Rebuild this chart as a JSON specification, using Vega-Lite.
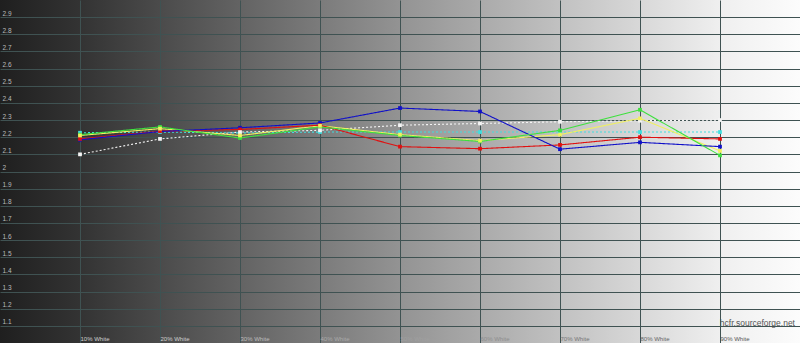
{
  "$schema": "https://vega.github.io/schema/vega-lite/v6.json",
  "width": 800,
  "height": 343,
  "autosize": "none",
  "padding": 0,
  "background": "#ffffff",
  "title": {"text": "hcfr.sourceforge.net", "orient": "bottom", "anchor": "end", "offset": -24, "dx": -5, "fontSize": 8.5, "font": "Liberation Sans", "fontWeight": "normal", "color": "#555555"},
  "config": {
    "view": {"stroke": null, "fill": {"gradient": "linear", "x1": 0, "y1": 0, "x2": 1, "y2": 0, "stops": [{"offset": 0, "color": "#1f1f1f"}, {"offset": 0.1, "color": "#333333"}, {"offset": 0.5, "color": "#939393"}, {"offset": 0.9, "color": "#efefef"}, {"offset": 1, "color": "#fcfcfc"}]}},
    "axis": {"domain": false, "ticks": false, "tickSize": 0, "gridColor": "#3f5252", "gridOpacity": 1, "gridWidth": 1, "labelFont": "Liberation Sans", "title": null}
  },
  "data": {"values": [
    {"pct": 10, "series": "White", "gamma": 2.10},
    {"pct": 20, "series": "White", "gamma": 2.19},
    {"pct": 30, "series": "White", "gamma": 2.23},
    {"pct": 40, "series": "White", "gamma": 2.24},
    {"pct": 50, "series": "White", "gamma": 2.27},
    {"pct": 60, "series": "White", "gamma": 2.28},
    {"pct": 70, "series": "White", "gamma": 2.29},
    {"pct": 80, "series": "White", "gamma": 2.296},
    {"pct": 90, "series": "White", "gamma": 2.30},
    {"pct": 10, "series": "Cyan", "gamma": 2.226},
    {"pct": 20, "series": "Cyan", "gamma": 2.23},
    {"pct": 30, "series": "Cyan", "gamma": 2.225},
    {"pct": 40, "series": "Cyan", "gamma": 2.23},
    {"pct": 50, "series": "Cyan", "gamma": 2.23},
    {"pct": 60, "series": "Cyan", "gamma": 2.23},
    {"pct": 70, "series": "Cyan", "gamma": 2.23},
    {"pct": 80, "series": "Cyan", "gamma": 2.23},
    {"pct": 90, "series": "Cyan", "gamma": 2.23},
    {"pct": 10, "series": "Yellow", "gamma": 2.21},
    {"pct": 20, "series": "Yellow", "gamma": 2.25},
    {"pct": 30, "series": "Yellow", "gamma": 2.21},
    {"pct": 40, "series": "Yellow", "gamma": 2.267},
    {"pct": 50, "series": "Yellow", "gamma": 2.215},
    {"pct": 60, "series": "Yellow", "gamma": 2.18},
    {"pct": 70, "series": "Yellow", "gamma": 2.215},
    {"pct": 80, "series": "Yellow", "gamma": 2.31},
    {"pct": 90, "series": "Yellow", "gamma": 2.12},
    {"pct": 10, "series": "Red", "gamma": 2.19},
    {"pct": 20, "series": "Red", "gamma": 2.235},
    {"pct": 30, "series": "Red", "gamma": 2.245},
    {"pct": 40, "series": "Red", "gamma": 2.27},
    {"pct": 50, "series": "Red", "gamma": 2.145},
    {"pct": 60, "series": "Red", "gamma": 2.133},
    {"pct": 70, "series": "Red", "gamma": 2.155},
    {"pct": 80, "series": "Red", "gamma": 2.20},
    {"pct": 90, "series": "Red", "gamma": 2.19},
    {"pct": 10, "series": "Blue", "gamma": 2.185},
    {"pct": 20, "series": "Blue", "gamma": 2.233},
    {"pct": 30, "series": "Blue", "gamma": 2.255},
    {"pct": 40, "series": "Blue", "gamma": 2.283},
    {"pct": 50, "series": "Blue", "gamma": 2.37},
    {"pct": 60, "series": "Blue", "gamma": 2.35},
    {"pct": 70, "series": "Blue", "gamma": 2.13},
    {"pct": 80, "series": "Blue", "gamma": 2.17},
    {"pct": 90, "series": "Blue", "gamma": 2.145},
    {"pct": 10, "series": "Green", "gamma": 2.215},
    {"pct": 20, "series": "Green", "gamma": 2.26},
    {"pct": 30, "series": "Green", "gamma": 2.195},
    {"pct": 40, "series": "Green", "gamma": 2.26},
    {"pct": 50, "series": "Green", "gamma": 2.21},
    {"pct": 60, "series": "Green", "gamma": 2.175},
    {"pct": 70, "series": "Green", "gamma": 2.24},
    {"pct": 80, "series": "Green", "gamma": 2.36},
    {"pct": 90, "series": "Green", "gamma": 2.094}
  ]},
  "encoding": {
    "x": {"field": "pct", "type": "quantitative", "scale": {"domain": [0, 100], "nice": false, "zero": false},
      "axis": {"values": [10, 20, 30, 40, 50, 60, 70, 80, 90], "labelExpr": "datum.value + '% White'", "labelAlign": "left", "labelBaseline": "bottom", "labelPadding": -2, "labelDx": 1, "labelFontSize": 6, "labelFlush": false, "labelOverlap": false,
        "labelColor": {"condition": [
          {"test": "datum.value <= 20", "value": "#cfcfcf"},
          {"test": "datum.value <= 30", "value": "#bdbdbd"},
          {"test": "datum.value <= 40", "value": "#aaaaaa"},
          {"test": "datum.value <= 50", "value": "#a0a0a0"},
          {"test": "datum.value <= 60", "value": "#8e8e8e"},
          {"test": "datum.value <= 70", "value": "#777777"},
          {"test": "datum.value <= 80", "value": "#666666"}
        ], "value": "#555555"}}},
    "y": {"field": "gamma", "type": "quantitative", "scale": {"domain": [1, 3], "nice": false, "zero": false},
      "axis": {"values": [1.1, 1.2, 1.3, 1.4, 1.5, 1.6, 1.7, 1.8, 1.9, 2.0, 2.1, 2.2, 2.3, 2.4, 2.5, 2.6, 2.7, 2.8, 2.9], "format": ".1~f", "labelAlign": "left", "labelBaseline": "alphabetic", "labelPadding": -2, "labelOffset": -2, "labelFontSize": 6.5, "labelColor": "#bbbbbb", "labelFlush": false, "labelOverlap": false}},
    "color": {"field": "series", "type": "nominal", "legend": null, "sort": null,
      "scale": {"domain": ["White", "Cyan", "Yellow", "Red", "Blue", "Green"], "range": ["#f4f4f4", "#40dede", "#f0f060", "#e01010", "#1010c8", "#3ee03e"]}},
    "order": {"field": "series", "type": "nominal"}
  },
  "layer": [
    {"mark": {"type": "line", "strokeWidth": 1.1},
      "encoding": {"strokeDash": {"field": "series", "type": "nominal", "legend": null,
        "scale": {"domain": ["White", "Cyan", "Yellow", "Red", "Blue", "Green"], "range": [[2, 2], [2, 2], [1, 0], [1, 0], [1, 0], [1, 0]]}},
        "strokeWidth": {"condition": {"test": "datum.series === 'White' || datum.series === 'Cyan'", "value": 0.8}, "value": 1.2}}},
    {"mark": {"type": "point", "shape": "square", "size": 14, "filled": true, "opacity": 1}}
  ]
}
